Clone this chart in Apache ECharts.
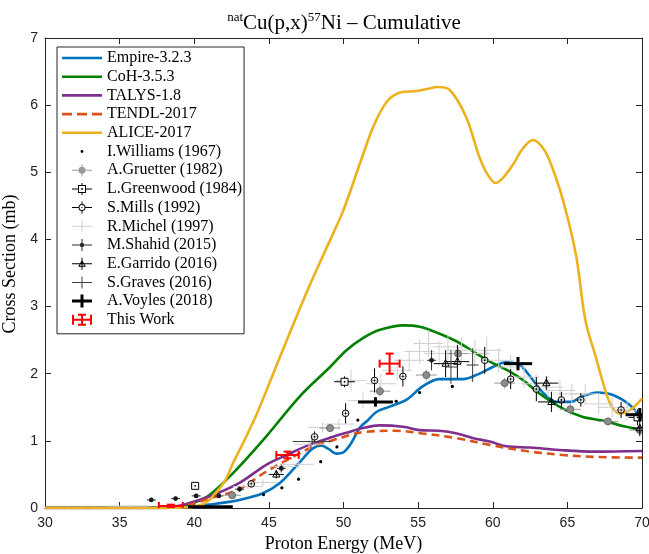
<!DOCTYPE html>
<html>
<head>
<meta charset="utf-8">
<script src="https://cdn.jsdelivr.net/npm/echarts/dist/echarts.min.js"></script>
<style>
  html, body { margin: 0; padding: 0; background: #fff; }
  #chart { width: 649px; height: 554px; }
</style>
</head>
<body>
<div id="chart"></div>
<script>
// ---- Model curves: [energy (MeV), cross section (mb)] ----
const empire = [[30,0],[36,0],[38,0.005],[40,0.02],[41,0.05],[42,0.08],[43.04,0.12],[44.6,0.22],[45.72,0.37],[46.61,0.57],[47.3,0.74],[47.9,0.88],[48.5,0.93],[49.0,0.88],[49.5,0.81],[50.0,0.83],[50.5,0.96],[51.1,1.2],[51.6,1.3],[52.2,1.43],[53.1,1.51],[54.2,1.61],[55.3,1.81],[56.4,1.92],[58.0,1.92],[59.0,1.99],[60.0,2.10],[60.9,2.17],[61.8,2.13],[62.5,1.96],[63.4,1.71],[64.3,1.58],[65.2,1.58],[66.0,1.66],[67.0,1.72],[68.1,1.68],[69.2,1.53],[70,1.32]];
const coh = [[30,0],[38,0],[39.2,0.02],[39.9,0.07],[41.0,0.19],[42.6,0.52],[44.8,1.06],[47.06,1.66],[49.1,2.1],[50.2,2.35],[51.3,2.53],[52.4,2.65],[54.0,2.72],[55.1,2.70],[56.4,2.60],[57.6,2.48],[58.7,2.33],[59.8,2.18],[60.9,2.06],[62.0,1.91],[63.1,1.71],[64.7,1.48],[66.0,1.36],[67.6,1.29],[68.7,1.22],[70,1.16]];
const talys = [[30,0],[37.5,0],[38.5,0.02],[39.3,0.05],[41.0,0.17],[43.0,0.37],[44.8,0.64],[46.2,0.79],[47.7,0.94],[49.3,1.06],[50.2,1.12],[51.3,1.19],[52.4,1.23],[54.0,1.21],[55.1,1.16],[56.4,1.15],[57.6,1.11],[58.7,1.04],[59.8,0.99],[60.9,0.92],[62.5,0.90],[64.7,0.86],[66.9,0.84],[70,0.85]];
const tendl = [[30,0],[38,0],[39.5,0.04],[41.0,0.14],[43.0,0.28],[44.8,0.54],[46.6,0.76],[48.2,0.94],[49.3,1.01],[51.3,1.13],[53.5,1.15],[55.3,1.11],[57.6,1.04],[59.8,0.94],[62.5,0.84],[64.7,0.79],[66.9,0.76],[70,0.75]];
const alice = [[30,0],[38,0],[39.5,0.01],[40.5,0.05],[41.0,0.12],[41.5,0.24],[42.1,0.42],[42.6,0.67],[43.3,0.98],[44.15,1.38],[45.2,1.95],[46.2,2.5],[47.7,3.3],[49.1,3.99],[50.0,4.44],[51.1,5.13],[52.0,5.68],[52.9,6.05],[53.8,6.19],[54.9,6.21],[55.6,6.24],[56.3,6.27],[57.1,6.23],[58.2,5.83],[59.1,5.23],[59.7,4.95],[60.2,4.84],[60.7,4.92],[61.4,5.13],[62.0,5.35],[62.7,5.48],[63.3,5.38],[63.8,5.18],[64.7,4.59],[65.6,3.74],[66.2,2.8],[66.9,2.25],[67.6,1.71],[68.0,1.5],[68.5,1.41],[69.2,1.46],[70,1.63]];

// ---- Measurements: [energy, cross section, energy uncertainty, cs uncertainty] ----
const williams = [[44.64,0.20],[45.87,0.30],[46.99,0.43],[48.47,0.69],[49.56,0.91],[50.96,1.31],[53.53,1.59],[55.1,1.72],[57.29,1.81]];
const gruetter = [[42.54,0.19,0.6,0.04],[49.1,1.19,0.7,0.06],[52.44,1.74,0.7,0.08],[55.55,1.98,0.7,0.08],[57.67,2.30,0.7,0.1],[60.8,1.86,0.7,0.08],[65.2,1.47,0.7,0.08],[67.72,1.29,0.7,0.06],[69.85,1.16,0.7,0.06]];
const greenwood = [[40.06,0.33,0.1,0.03],[50.07,1.88,0.7,0.08],[69.7,1.35,0.6,0.12]];
const mills = [[43.82,0.36,0.2,0.05],[48.06,1.06,0.2,0.08],[50.14,1.41,0.2,0.15],[52.08,1.90,0.2,0.18],[53.98,1.96,0.2,0.15],[59.46,2.2,0.2,0.2],[61.2,1.92,0.2,0.15],[62.92,1.77,0.2,0.18],[64.6,1.61,0.2,0.12],[65.9,1.61,0.2,0.1],[68.6,1.46,0.2,0.12]];
const michel = [[35.6,0.03,1.3,0.02],[43.6,0.32,1.0,0.04],[44.6,0.38,1.0,0.05],[46.0,0.62,1.0,0.06],[47.0,0.65,1.0,0.06],[47.7,0.95,1.0,0.07],[48.6,1.2,1.0,0.08],[49.7,1.25,1.0,0.08],[50.5,1.9,1.0,0.17],[51.3,1.6,1.0,0.12],[52.5,1.85,1.0,0.15],[53.6,2.05,1.0,0.15],[54.4,2.2,1.0,0.15],[55.1,2.33,1.0,0.18],[55.7,2.45,1.0,0.2],[56.4,2.3,1.0,0.18],[57.0,2.4,1.0,0.2],[57.9,2.35,1.0,0.2],[58.8,2.3,1.0,0.2],[59.6,2.35,1.0,0.2],[60.4,2.2,1.0,0.18],[61.2,2.1,1.0,0.18],[62.1,1.95,1.0,0.15],[62.9,1.85,1.0,0.15],[63.7,1.8,1.0,0.15],[64.5,1.75,1.0,0.15],[65.3,1.7,1.0,0.15],[66.2,1.7,1.0,0.15],[67.1,1.55,1.0,0.15],[68.0,1.5,1.0,0.15],[69.0,1.45,1.0,0.15]];
const shahid = [[37.12,0.12,0.3,0.03],[38.75,0.14,0.3,0.03],[40.13,0.18,0.3,0.03],[41.65,0.18,0.3,0.03],[43.04,0.28,0.3,0.04],[45.83,0.59,0.3,0.06],[55.9,2.2,0.3,0.15]];
const garrido = [[45.5,0.5,0.5,0.06],[56.84,2.15,0.8,0.2],[57.63,2.18,0.8,0.25],[63.59,1.86,0.8,0.1],[63.93,1.58,0.9,0.15],[69.85,1.19,0.5,0.12]];
const graves = [[47.9,0.99,1.3,0.05],[57.2,2.1,0.4,0.25],[58.65,2.13,0.4,0.25]];
const voyles = [[41.08,0.02,1.5,0.02],[52.14,1.58,1.17,0.07],[61.69,2.15,0.95,0.1],[69.85,1.39,0.95,0.1]];
const thisWork = [[38.43,0.03,0.8,0.02],[46.25,0.79,0.75,0.05],[53.09,2.15,0.67,0.15]];

// ---- Axis ticks ----
const xTicks = { min: 30, max: 70, step: 5 };
const yTicks = { min: 0, max: 7, step: 1 };

const SERIF = "'Liberation Serif', 'DejaVu Serif', serif";
const SANS = "'Liberation Sans', Arial, sans-serif";
const AXIS_COLOR = '#262626';

// Title pieces; the title is centred over the plot area
const TITLE_SIZE = 21, SUP_SIZE = 13;
const titleParts = [['nat', SUP_SIZE], ['Cu(p,x)', TITLE_SIZE], ['57', SUP_SIZE], ['Ni – Cumulative', TITLE_SIZE]];
function titleWidth() {
  const ctx = document.createElement('canvas').getContext('2d');
  let w = 0;
  titleParts.forEach(([t, s]) => { ctx.font = s + "px 'Liberation Serif'"; w += ctx.measureText(t).width; });
  return w;
}

// Error-bar glyph renderer shared by all measurement series
function errorBars(cfg) {
  return function (params, api) {
    const x = api.value(0), y = api.value(1);
    const dx = api.value(2) || 0, dy = api.value(3) || 0;
    const c = api.coord([x, y]);
    const kids = [];
    const st = { stroke: cfg.color, lineWidth: cfg.lw, fill: null };
    if (dx) {
      const a = api.coord([x - dx, y]), b = api.coord([x + dx, y]);
      kids.push({ type: 'line', shape: { x1: a[0], y1: a[1], x2: b[0], y2: b[1] }, style: st });
      if (cfg.cap) {
        kids.push({ type: 'line', shape: { x1: a[0], y1: a[1] - cfg.cap, x2: a[0], y2: a[1] + cfg.cap }, style: st });
        kids.push({ type: 'line', shape: { x1: b[0], y1: b[1] - cfg.cap, x2: b[0], y2: b[1] + cfg.cap }, style: st });
      }
    }
    if (dy) {
      const a = api.coord([x, y - dy]), b = api.coord([x, y + dy]);
      kids.push({ type: 'line', shape: { x1: a[0], y1: a[1], x2: b[0], y2: b[1] }, style: st });
      if (cfg.cap) {
        kids.push({ type: 'line', shape: { x1: a[0] - cfg.cap, y1: a[1], x2: a[0] + cfg.cap, y2: a[1] }, style: st });
        kids.push({ type: 'line', shape: { x1: b[0] - cfg.cap, y1: b[1], x2: b[0] + cfg.cap, y2: b[1] }, style: st });
      }
    }
    const m = cfg.marker;
    if (m === 'dot') {
      kids.push({ type: 'circle', shape: { cx: c[0], cy: c[1], r: 1.6 }, style: { fill: '#000' } });
    } else if (m === 'fcircle') {
      kids.push({ type: 'circle', shape: { cx: c[0], cy: c[1], r: 3.5 }, style: { fill: '#8c8c8c', stroke: '#6a6a6a', lineWidth: 1 } });
    } else if (m === 'square') {
      kids.push({ type: 'rect', shape: { x: c[0] - 3.5, y: c[1] - 3.5, width: 7, height: 7 }, style: { fill: '#fff', stroke: '#000', lineWidth: 1 } });
      kids.push({ type: 'circle', shape: { cx: c[0], cy: c[1], r: 0.9 }, style: { fill: '#000' } });
    } else if (m === 'ocircle') {
      kids.push({ type: 'circle', shape: { cx: c[0], cy: c[1], r: 3.3 }, style: { fill: 'rgba(255,255,255,0.6)', stroke: '#000', lineWidth: 1 } });
      kids.push({ type: 'circle', shape: { cx: c[0], cy: c[1], r: 0.8 }, style: { fill: '#000' } });
    } else if (m === 'star') {
      kids.push({ type: 'circle', shape: { cx: c[0], cy: c[1], r: 2.4 }, style: { fill: '#1a1a1a' } });
    } else if (m === 'triangle') {
      kids.push({ type: 'polygon', shape: { points: [[c[0], c[1] - 4], [c[0] + 3.6, c[1] + 2.6], [c[0] - 3.6, c[1] + 2.6]] }, style: { fill: 'none', stroke: '#000', lineWidth: 1 } });
    }
    return { type: 'group', children: kids };
  };
}

function lineSeries(name, data, color, dashed) {
  return {
    name, type: 'line', data, smooth: 0.35, symbol: 'none', z: 2,
    lineStyle: { color, width: 2.6, type: dashed ? [8, 5] : 'solid' },
    itemStyle: { color }, animation: false
  };
}

function barSeries(name, data, cfg) {
  return {
    name, type: 'custom', data, clip: true, z: 3,
    encode: { x: 0, y: 1 },
    itemStyle: { color: cfg.color },
    renderItem: errorBars(cfg), animation: false
  };
}

// Legend glyphs in a 40x14 box (the first two moves pin the box extent)
const BOX = 'M0 0 M40 14 ';
const hbar = 'M10 6.5 H30 V7.5 H10 Z ';
const vbar = 'M19.5 1 H20.5 V13 H19.5 Z ';
const icons = {
  solid: 'path://' + BOX + 'M0 5.7 H40 V8.3 H0 Z',
  dashed: 'path://' + BOX + 'M0 5.7 H10 V8.3 H0 Z M15 5.7 H25 V8.3 H15 Z M30 5.7 H40 V8.3 H30 Z',
  williams: 'path://' + BOX + 'M18.6 7 A1.4 1.4 0 1 1 21.4 7 A1.4 1.4 0 1 1 18.6 7 Z',
  gruetter: 'path://' + BOX + hbar + vbar + 'M16.5 7 A3.5 3.5 0 1 1 23.5 7 A3.5 3.5 0 1 1 16.5 7 Z',
  greenwood: 'path://' + BOX + 'M10 6.5 H16 V7.5 H10 Z M24 6.5 H30 V7.5 H24 Z M19.5 1 H20.5 V3 H19.5 Z M19.5 11 H20.5 V13 H19.5 Z ' +
    'M16 3 H24 V11 H16 Z M17 4 V10 H23 V4 Z M19.2 6.2 H20.8 V7.8 H19.2 Z',
  mills: 'path://' + BOX + 'M10 6.5 H16.5 V7.5 H10 Z M23.5 6.5 H30 V7.5 H23.5 Z M19.5 1 H20.5 V3.5 H19.5 Z M19.5 10.5 H20.5 V13 H19.5 Z ' +
    'M16.5 7 A3.5 3.5 0 1 1 23.5 7 A3.5 3.5 0 1 1 16.5 7 Z M17.5 7 A2.5 2.5 0 1 0 22.5 7 A2.5 2.5 0 1 0 17.5 7 Z M19.3 7 A0.7 0.7 0 1 1 20.7 7 A0.7 0.7 0 1 1 19.3 7 Z',
  michel: 'path://' + BOX + hbar + vbar,
  shahid: 'path://' + BOX + hbar + vbar + 'M17.8 7 A2.2 2.2 0 1 1 22.2 7 A2.2 2.2 0 1 1 17.8 7 Z',
  garrido: 'path://' + BOX + hbar + vbar + 'M20 3 L23.8 10 L16.2 10 Z M20 5 L17.8 9 L22.2 9 Z',
  graves: 'path://' + BOX + hbar + vbar,
  voyles: 'path://' + BOX + 'M10 5.5 H30 V8.5 H10 Z M18.5 0.5 H21.5 V13.5 H18.5 Z',
  thisWork: 'path://' + BOX + 'M10 6 H30 V8 H10 Z M10 2 H12 V12 H10 Z M28 2 H30 V12 H28 Z M19 1 H21 V13 H19 Z M16 1 H24 V3 H16 Z M16 11 H24 V13 H16 Z'
};

const names = {
  empire: 'Empire-3.2.3', coh: 'CoH-3.5.3', talys: 'TALYS-1.8', tendl: 'TENDL-2017', alice: 'ALICE-2017',
  williams: 'I.Williams (1967)', gruetter: 'A.Gruetter (1982)', greenwood: 'L.Greenwood (1984)', mills: 'S.Mills (1992)',
  michel: 'R.Michel (1997)', shahid: 'M.Shahid (2015)', garrido: 'E.Garrido (2016)', graves: 'S.Graves (2016)',
  voyles: 'A.Voyles (2018)', thisWork: 'This Work'
};

const series = [
  lineSeries(names.empire, empire, '#0072BD'),
  lineSeries(names.coh, coh, '#008000'),
  lineSeries(names.talys, talys, '#7E2F8E'),
  lineSeries(names.tendl, tendl, '#D95319', true),
  lineSeries(names.alice, alice, '#EDB120'),
  barSeries(names.michel, michel, { color: '#cfcfcf', lw: 1 }),
  barSeries(names.gruetter, gruetter, { color: '#9a9a9a', lw: 1, marker: 'fcircle' }),
  barSeries(names.williams, williams, { color: '#000', lw: 1, marker: 'dot' }),
  barSeries(names.greenwood, greenwood, { color: '#000', lw: 1, marker: 'square' }),
  barSeries(names.mills, mills, { color: '#000', lw: 1, marker: 'ocircle' }),
  barSeries(names.shahid, shahid, { color: '#2a2a2a', lw: 1, marker: 'star' }),
  barSeries(names.garrido, garrido, { color: '#000', lw: 1, marker: 'triangle' }),
  barSeries(names.graves, graves, { color: '#3c3c3c', lw: 1 }),
  barSeries(names.voyles, voyles, { color: '#000', lw: 3 }),
  barSeries(names.thisWork, thisWork, { color: '#ff0000', lw: 2, cap: 4 })
];

const legendData = [
  { name: names.empire, icon: icons.solid }, { name: names.coh, icon: icons.solid },
  { name: names.talys, icon: icons.solid }, { name: names.tendl, icon: icons.dashed },
  { name: names.alice, icon: icons.solid },
  { name: names.williams, icon: icons.williams },
  { name: names.gruetter, icon: icons.gruetter },
  { name: names.greenwood, icon: icons.greenwood },
  { name: names.mills, icon: icons.mills },
  { name: names.michel, icon: icons.michel },
  { name: names.shahid, icon: icons.shahid },
  { name: names.garrido, icon: icons.garrido },
  { name: names.graves, icon: icons.graves },
  { name: names.voyles, icon: icons.voyles },
  { name: names.thisWork, icon: icons.thisWork }
];

function axisBase(t, extra) {
  return Object.assign({
    type: 'value', min: t.min, max: t.max, interval: t.step,
    axisLine: { show: true, onZero: false, lineStyle: { color: AXIS_COLOR, width: 1 } },
    axisTick: { show: true, inside: true, length: 6, lineStyle: { color: AXIS_COLOR } },
    splitLine: { show: false }
  }, extra);
}

const PLOT_CENTER_X = 344;
const chart = echarts.init(document.getElementById('chart'), null, { renderer: 'canvas' });
chart.setOption({
  backgroundColor: '#fff',
  animation: false,
  title: {
    text: titleParts.map(([t, s]) => s === SUP_SIZE ? '{sup|' + t + '}' : '{main|' + t + '}').join(''),
    left: PLOT_CENTER_X - titleWidth() / 2 - 5, top: 6,
    textStyle: {
      fontFamily: SERIF, fontSize: TITLE_SIZE, fontWeight: 'normal', color: '#000',
      rich: {
        main: { fontFamily: SERIF, fontSize: TITLE_SIZE, lineHeight: 24, color: '#000' },
        sup: { fontFamily: SERIF, fontSize: SUP_SIZE, verticalAlign: 'top', lineHeight: 13, color: '#000' }
      }
    }
  },
  grid: { left: 45, right: 7, top: 38, bottom: 46, outerBoundsMode: 'none', containLabel: false },
  legend: {
    orient: 'vertical', left: 57, top: 47, padding: [3, 2, 6, 5],
    itemWidth: 40, itemHeight: 14, itemGap: 2.7,
    backgroundColor: '#fff', borderColor: AXIS_COLOR, borderWidth: 1,
    selectedMode: false,
    textStyle: { fontFamily: SERIF, fontSize: 16, color: '#000' },
    data: legendData
  },
  xAxis: [
    axisBase(xTicks, {
      position: 'bottom',
      name: 'Proton Energy (MeV)', nameLocation: 'middle', nameGap: 25,
      nameTextStyle: { fontFamily: SERIF, fontSize: 18, color: '#000' },
      axisLabel: { fontFamily: SANS, fontSize: 14, color: '#222', margin: 8 }
    }),
    axisBase(xTicks, { position: 'top', axisLabel: { show: false } })
  ],
  yAxis: [
    axisBase(yTicks, {
      position: 'left',
      name: 'Cross Section (mb)', nameLocation: 'middle', nameGap: 19,
      nameTextStyle: { fontFamily: SERIF, fontSize: 18, color: '#000', padding: [0, 0, 0, 18] },
      axisLabel: { fontFamily: SANS, fontSize: 14, color: '#222', margin: 7 }
    }),
    axisBase(yTicks, { position: 'right', axisLabel: { show: false } })
  ],
  series: series
});
</script>
</body>
</html>
